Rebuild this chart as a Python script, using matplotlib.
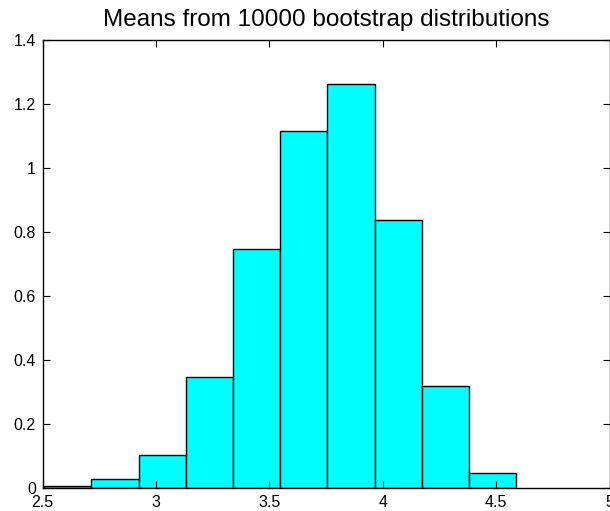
import matplotlib
matplotlib.use("Agg")
import matplotlib.pyplot as plt
import numpy as np

plt.rcParams['font.family'] = ['Liberation Sans', 'DejaVu Sans']

title = "Means from 10000 bootstrap distributions"
bin_edges = [2.506, 2.715, 2.923, 3.131, 3.339, 3.547, 3.755, 3.963, 4.171, 4.379, 4.586]
densities = [0.004, 0.026, 0.101, 0.346, 0.747, 1.114, 1.261, 0.836, 0.318, 0.045]
xticks = [2.5, 3, 3.5, 4, 4.5, 5]
xticklabels = ["2.5", "3", "3.5", "4", "4.5", "5"]
yticks = [0, 0.2, 0.4, 0.6, 0.8, 1, 1.2, 1.4]
yticklabels = ["0", "0.2", "0.4", "0.6", "0.8", "1", "1.2", "1.4"]

fig = plt.figure(figsize=(6.10, 5.11), dpi=100)
ax = fig.add_axes([0.070, 0.0456, 0.9295, 0.8767])

edges = np.array(bin_edges)
ax.bar(edges[:-1], densities, width=np.diff(edges), align='edge',
       color='#00FFFF', edgecolor='black', linewidth=1.0)

ax.set_xlim(2.5, 5)
ax.set_ylim(0, 1.4)
ax.set_xticks(xticks)
ax.set_xticklabels(xticklabels)
ax.set_yticks(yticks)
ax.set_yticklabels(yticklabels)
ax.tick_params(direction='in', length=5, width=0.8, top=True, right=True,
               labelsize=11.5)
ax.tick_params(axis='x', pad=5)
ax.tick_params(axis='y', pad=5)
for s in ax.spines.values():
    s.set_linewidth(1.0)
ax.set_title(title, fontsize=17.5, pad=10)

fig.savefig("out.png", dpi=100)
